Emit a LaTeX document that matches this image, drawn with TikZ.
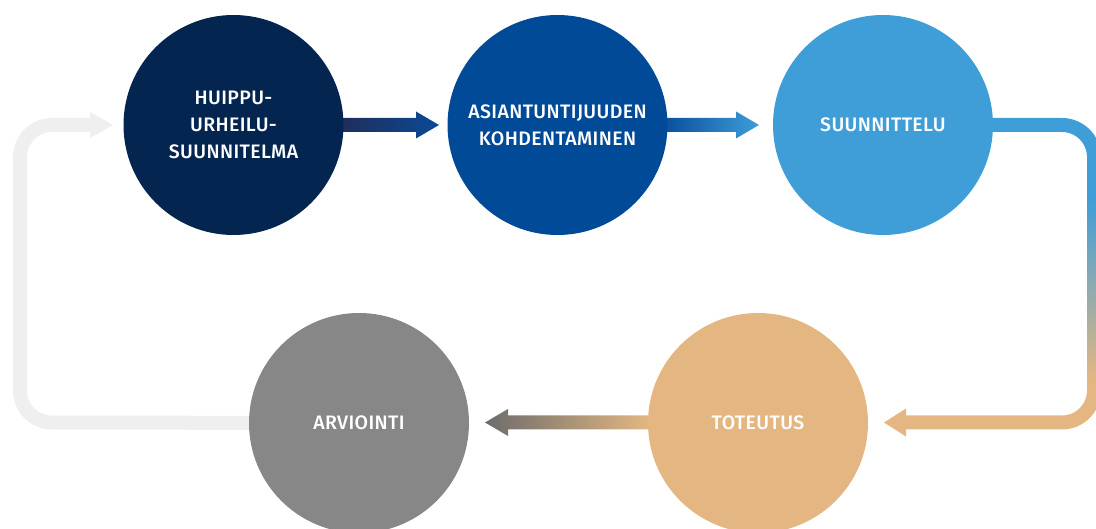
\documentclass[tikz,border=0pt]{standalone}
\usepackage{fontspec}
\setmainfont{Fira Sans Medium}[LetterSpace=2]
\usetikzlibrary{calc,backgrounds}
\definecolor{navy}{HTML}{032550}
\definecolor{blueB}{HTML}{004A97}
\definecolor{blueC}{HTML}{3F9ED8}
\definecolor{tanD}{HTML}{E4B782}
\definecolor{grayE}{HTML}{878787}
\definecolor{lgray}{HTML}{EFEFEF}
\definecolor{aOneL}{HTML}{202D5A}
\definecolor{aOneR}{HTML}{0B4A96}
\definecolor{aTwoL}{HTML}{0A4F9E}
\definecolor{aTwoR}{HTML}{3E9DD7}
\definecolor{aBotTip}{HTML}{6C6C6C}
\begin{document}
\begin{tikzpicture}[x=1pt,y=-1pt,
  circ/.style={circle, minimum size=220pt, inner sep=0pt, text=white, align=center,
    font=\fontsize{19.5}{27}\selectfont},
  loopline/.style={line width=14pt, rounded corners=32pt}]
\useasboundingbox (0,0) rectangle (1096,529);

\node[circ, fill=navy]  (c1) at (233.5,125) {HUIPPU-\\URHEILU-\\SUUNNITELMA};
\node[circ, fill=blueB] (c2) at (557.5,125) {ASIANTUNTIJUUDEN\\KOHDENTAMINEN};
\node[circ, fill=blueC] (c3) at (883,125) {SUUNNITTELU};
\node[circ, fill=tanD]  (c4) at (758,423) {TOTEUTUS};
\node[circ, fill=grayE] (c5) at (359,423) {ARVIOINTI};

\coordinate (t12) at (439,125);
\coordinate (t23) at (759,125);
\coordinate (t34) at (884,422.5);
\coordinate (t45) at (485,422.5);
\coordinate (t51) at (113,125);

\begin{pgfonlayer}{background}
% arrow 1 -> 2
\shade[left color=aOneL, right color=aOneR]
  let \p1=($(c1.east)+(-3,0)$), \p2=(t12) in
  (\x1,\y2-7pt) -- (\x2-23pt,\y2-7pt) -- (\x2-23pt,\y2-13.5pt) -- (\x2,\y2)
  -- (\x2-23pt,\y2+13.5pt) -- (\x2-23pt,\y2+7pt) -- (\x1,\y2+7pt) -- cycle;
% arrow 2 -> 3
\shade[left color=aTwoL, right color=aTwoR]
  let \p1=($(c2.east)+(-3,0)$), \p2=(t23) in
  (\x1,\y2-7pt) -- (\x2-23pt,\y2-7pt) -- (\x2-23pt,\y2-13.5pt) -- (\x2,\y2)
  -- (\x2-23pt,\y2+13.5pt) -- (\x2-23pt,\y2+7pt) -- (\x1,\y2+7pt) -- cycle;
% loop 3 -> 4
\draw[loopline, blueC] (c3) -- (1094,125) -- (1094,201);
\shade[top color=blueC, bottom color=tanD] (1087,200) rectangle (1101,381);
\draw[loopline, tanD] (1094,380) -- (1094,422.5) -- (906,422.5);
\fill[tanD] (906,408.5) -- (t34) -- (906,436.5) -- cycle;
% arrow 4 -> 5
\shade[left color=aBotTip, right color=tanD]
  let \p1=($(c4.west)+(3,0)$), \p2=(t45) in
  (\x1,\y2-7pt) -- (\x2+23pt,\y2-7pt) -- (\x2+23pt,\y2-13.5pt) -- (\x2,\y2)
  -- (\x2+23pt,\y2+13.5pt) -- (\x2+23pt,\y2+7pt) -- (\x1,\y2+7pt) -- cycle;
% loop 5 -> 1
\draw[loopline, lgray] (c5) -- (20,422.5) -- (20,125) -- (91,125);
\fill[lgray] (90,112) -- (t51) -- (90,138) -- cycle;
\end{pgfonlayer}
\end{tikzpicture}
\end{document}
